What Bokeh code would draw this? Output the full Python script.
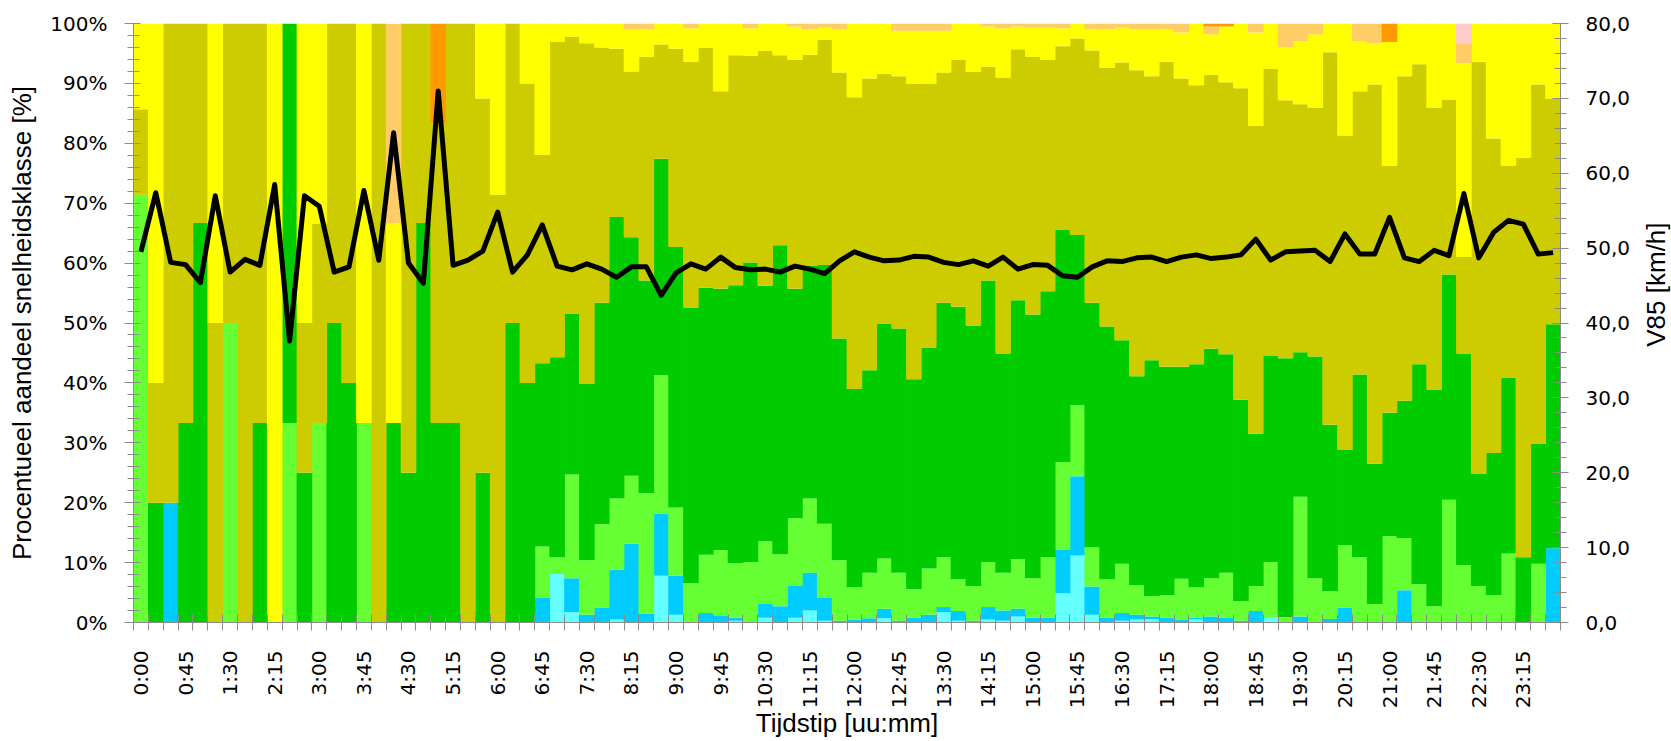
import math
from bokeh.plotting import figure
from bokeh.models import ColumnDataSource, Range1d, LinearAxis, FixedTicker
from bokeh.layouts import row
from bokeh.core.properties import value
from bokeh.embed import file_html
from bokeh.resources import INLINE

# ---------------- data ----------------
# 96 quarter-hour slots (0:00 .. 23:45); share of each speed class in % (rows of 16 slots)
tick_labels = ["0:00", "0:45", "1:30", "2:15", "3:00", "3:45", "4:30", "5:15",
               "6:00", "6:45", "7:30", "8:15", "9:00", "9:45", "10:30", "11:15",
               "12:00", "12:45", "13:30", "14:15", "15:00", "15:45", "16:30", "17:15",
               "18:00", "18:45", "19:30", "20:15", "21:00", "21:45", "22:30", "23:15"]
left_labels = ["0%", "10%", "20%", "30%", "40%", "50%", "60%", "70%", "80%", "90%", "100%"]
right_labels = ["0,0", "10,0", "20,0", "30,0", "40,0", "50,0", "60,0", "70,0", "80,0"]
x_title = "Tijdstip [uu:mm]"
y_title = "Procentueel aandeel snelheidsklasse [%]"
y2_title = "V85 [km/h]"

light_cyan = [0, 0, 0, 0, 0, 0, 0, 0, 0, 0, 0, 0, 0, 0, 0, 0,
              0, 0, 0, 0, 0, 0, 0, 0, 0, 0, 0, 0, 8.1, 1.7, 0, 0,
              0.5, 0, 0, 7.8, 1.3, 0, 0, 0, 0.3, 0, 0.8, 0, 0.8, 2.0, 0.3, 0,
              0, 0, 0.7, 0, 0, 0, 1.7, 0.3, 0, 0.5, 0.3, 1.0, 0, 0, 4.9, 11.2,
              1.3, 0, 0.3, 0.5, 0.6, 0, 0, 0.5, 0, 0, 0, 0, 0.8, 0, 0, 0,
              0, 0, 0, 0, 0, 0, 0, 0, 0, 0, 0, 0, 0, 0, 0, 0]
cyan = [0, 0, 20, 0, 0, 0, 0, 0, 0, 0, 0, 0, 0, 0, 0, 0,
        0, 0, 0, 0, 0, 0, 0, 0, 0, 0, 0, 4.1, 0, 5.7, 1.3, 2.5,
        8.3, 13.2, 1.5, 10.4, 6.5, 0, 1.6, 1.1, 0.5, 0, 2.3, 2.7, 5.3, 6.3, 3.8, 0.3,
        0.5, 0.7, 1.6, 0.3, 0.8, 1.3, 0.9, 1.6, 0.3, 2.1, 1.7, 1.3, 0.8, 0.8, 7.2, 13.2,
        4.7, 0.8, 1.3, 0.8, 0.4, 0.8, 0.5, 0.3, 1.0, 0.8, 0.3, 1.9, 0, 0, 1.0, 0,
        0.6, 2.5, 0, 0, 0, 5.4, 0, 0, 0, 0, 0, 0, 0, 0, 0, 12.4]
light_green = [71.4, 0, 0, 0, 0, 0, 50, 0, 0, 0, 33.3, 0, 33.3, 0, 0, 33.3,
               0, 0, 0, 0, 0, 0, 0, 0, 0, 0, 0, 8.6, 2.8, 17.3, 9.1, 13.9,
               11.9, 11.3, 20.1, 23.1, 11.4, 6.6, 9.7, 11.0, 9.1, 10.1, 10.5, 8.7, 11.3, 12.4, 12.4, 10.1,
               5.4, 7.6, 8.4, 8.0, 4.8, 7.7, 8.3, 5.3, 5.8, 7.5, 6.3, 8.3, 6.6, 10.1, 14.7, 11.9,
               6.6, 6.4, 8.2, 4.9, 3.4, 3.8, 6.8, 5.1, 6.4, 7.5, 3.3, 4.2, 9.3, 0.9, 20.0, 7.4,
               4.6, 10.4, 10.9, 3.1, 14.4, 8.7, 6.4, 2.7, 20.5, 9.6, 6.1, 4.6, 11.5, 0, 9.8, 0]
green = [0, 20, 0, 33.3, 66.7, 0, 0, 0, 33.3, 0, 66.7, 25, 0, 50, 40, 0,
         0, 33.3, 25, 66.7, 33.3, 33.3, 0, 25, 0, 50, 40, 30.6, 33.4, 26.9, 29.4, 37.0,
         47.0, 39.8, 35.5, 36.1, 43.5, 46.0, 44.6, 43.6, 46.4, 50.0, 42.6, 51.6, 38.3, 38.8, 43.2, 37.0,
         33.1, 33.8, 39.2, 40.8, 35.0, 36.9, 42.5, 45.5, 43.5, 47.0, 36.6, 43.2, 44.0, 44.4, 38.8, 28.4,
         40.8, 42.2, 37.3, 34.9, 39.4, 38.1, 35.4, 37.2, 38.3, 36.5, 33.6, 25.4, 34.4, 43.2, 24.1, 37.0,
         27.8, 15.9, 30.5, 23.4, 20.6, 22.9, 36.7, 36.1, 37.6, 35.3, 18.7, 23.7, 29.4, 10.9, 20.0, 37.4]
olive = [14.3, 20, 80, 66.7, 33.3, 50, 50, 100, 66.7, 0, 0, 25, 33.3, 50, 60, 0,
         100, 0, 75, 33.3, 50, 66.7, 100, 62.5, 71.4, 50, 50, 34.8, 52.7, 46.2, 56.9, 42.6,
         28.1, 27.7, 37.3, 19.1, 33.1, 41.0, 40.0, 33.0, 38.4, 34.5, 39.2, 31.7, 38.2, 35.3, 37.6, 44.4,
         48.7, 48.7, 41.7, 42.1, 49.3, 44.1, 38.4, 41.2, 42.3, 35.7, 46.1, 41.9, 43.0, 38.6, 30.6, 32.8,
         42.1, 43.2, 46.4, 51.1, 47.4, 50.9, 48.1, 46.6, 45.7, 45.4, 52.0, 51.4, 47.9, 43.1, 41.4, 41.5,
         62.2, 52.5, 47.3, 63.3, 41.2, 54.2, 50.1, 47.1, 29.2, 16.1, 68.8, 52.5, 35.4, 66.7, 60.0, 37.6]
yellow = [14.3, 60, 0, 0, 0, 50, 0, 0, 0, 100, 0, 50, 33.3, 0, 0, 66.7,
          0, 33.3, 0, 0, 0, 0, 0, 12.5, 28.6, 0, 10, 21.9, 3.0, 2.2, 3.3, 4.0,
          4.2, 7.0, 4.6, 3.5, 4.2, 5.6, 4.1, 11.3, 5.3, 4.6, 4.6, 5.3, 5.6, 4.2, 2.0, 7.2,
          12.3, 9.2, 8.4, 7.6, 8.9, 8.8, 7.0, 6.1, 8.1, 6.7, 8.2, 3.8, 4.9, 5.4, 3.0, 2.5,
          3.5, 6.4, 5.8, 6.8, 7.8, 5.4, 7.7, 10.3, 6.8, 9.3, 10.8, 15.6, 7.6, 8.8, 10.5, 12.3,
          4.8, 18.7, 8.3, 6.9, 20.7, 8.8, 6.8, 14.1, 12.7, 32.4, 6.4, 19.2, 23.7, 22.4, 10.2, 12.6]
light_orange = [0, 0, 0, 0, 0, 0, 0, 0, 0, 0, 0, 0, 0, 0, 0, 0,
                0, 33.3, 0, 0, 0, 0, 0, 0, 0, 0, 0, 0, 0, 0, 0, 0,
                0, 1.0, 1.0, 0, 0, 0.8, 0, 0, 0, 0.8, 0, 0, 0.5, 1.0, 0.7, 1.0,
                0, 0, 0, 1.2, 1.2, 1.2, 1.2, 0, 0, 0.5, 0.8, 0.5, 0.7, 0.7, 0.8, 0,
                1.0, 1.0, 0.7, 1.0, 1.0, 1.0, 1.5, 0, 1.3, 0, 0, 1.5, 0, 4.0, 3.0, 1.8,
                0, 0, 3.0, 3.3, 0, 0, 0, 0, 0, 3.3, 0, 0, 0, 0, 0, 0]
orange = [0, 0, 0, 0, 0, 0, 0, 0, 0, 0, 0, 0, 0, 0, 0, 0,
          0, 0, 0, 0, 16.7, 0, 0, 0, 0, 0, 0, 0, 0, 0, 0, 0,
          0, 0, 0, 0, 0, 0, 0, 0, 0, 0, 0, 0, 0, 0, 0, 0,
          0, 0, 0, 0, 0, 0, 0, 0, 0, 0, 0, 0, 0, 0, 0, 0,
          0, 0, 0, 0, 0, 0, 0, 0, 0.5, 0.5, 0, 0, 0, 0, 0, 0,
          0, 0, 0, 0, 3.1, 0, 0, 0, 0, 0, 0, 0, 0, 0, 0, 0]
pink = [0, 0, 0, 0, 0, 0, 0, 0, 0, 0, 0, 0, 0, 0, 0, 0,
        0, 0, 0, 0, 0, 0, 0, 0, 0, 0, 0, 0, 0, 0, 0, 0,
        0, 0, 0, 0, 0, 0, 0, 0, 0, 0, 0, 0, 0, 0, 0, 0,
        0, 0, 0, 0, 0, 0, 0, 0, 0, 0, 0, 0, 0, 0, 0, 0,
        0, 0, 0, 0, 0, 0, 0, 0, 0, 0, 0, 0, 0, 0, 0, 0,
        0, 0, 0, 0, 0, 0, 0, 0, 0, 3.3, 0, 0, 0, 0, 0, 0]

# V85 in km/h per quarter hour
v85 = [49.5, 57.4, 48.1, 47.8, 45.4, 57.0, 46.8, 48.5, 47.7, 58.5, 37.6, 57.0, 55.6, 46.8, 47.5, 57.7,
       48.4, 65.4, 48.0, 45.3, 71.0, 47.7, 48.4, 49.6, 54.8, 46.8, 49.1, 53.1, 47.6, 47.1, 47.9, 47.2,
       46.1, 47.5, 47.5, 43.7, 46.7, 47.9, 47.2, 48.8, 47.4, 47.1, 47.2, 46.8, 47.6, 47.2, 46.6, 48.3,
       49.5, 48.8, 48.3, 48.4, 48.9, 48.8, 48.1, 47.8, 48.3, 47.6, 48.8, 47.2, 47.8, 47.7, 46.3, 46.1,
       47.5, 48.3, 48.2, 48.7, 48.8, 48.2, 48.8, 49.1, 48.6, 48.8, 49.1, 51.2, 48.4, 49.5, 49.6, 49.7,
       48.2, 51.9, 49.2, 49.2, 54.1, 48.7, 48.2, 49.7, 49.0, 57.3, 48.7, 52.1, 53.7, 53.2, 49.2, 49.4]

classes = ["lc", "c", "lg", "g", "ol", "y", "lo", "o", "pk"]
colors = ["#66FFFF", "#00CCFF", "#66FF33", "#00CC00", "#CCCC00",
          "#FFFF00", "#FFCC66", "#FF9900", "#FFCCCC"]

n = len(v85)
for arr in (light_cyan, cyan, light_green, green, olive, yellow, light_orange, orange, pink):
    assert len(arr) == n, len(arr)

centers = [i + 0.5 for i in range(n)]
src = ColumnDataSource(dict(x=centers, lc=light_cyan, c=cyan, lg=light_green, g=green,
                            ol=olive, y=yellow, lo=light_orange, o=orange, pk=pink, v85=v85))

# ---------------- layout geometry ----------------
W, H = 1671, 741
TW = 36                                       # strip on the right holding the V85 title
PW = W - TW
FL, FR, FT, FB = 133, 1560, 23, 623          # plot frame edges in pixels
TITLE_X = 1655                                # centre of the V85 title in page pixels

p = figure(width=PW, height=H, x_range=Range1d(0, n), y_range=Range1d(0, 100),
           output_backend="svg", toolbar_location=None,
           min_border_left=FL, min_border_right=PW - FR,
           min_border_top=FT, min_border_bottom=H - FB)
p.extra_y_ranges = {"v85": Range1d(0, 80)}
p.outline_line_color = None
p.grid.visible = False
p.background_fill_color = "white"
p.border_fill_color = "white"

p.vbar_stack(classes, x="x", width=1.05, fill_color=colors, line_color=None, source=src)
p.line(x="x", y="v85", y_range_name="v85", line_color="black", line_width=5,
       line_join="round", source=src)

AX = "#8C8C8C"
TICKFONT = "DejaVu Sans"
TITLEFONT = "Liberation Sans"


def style_title(ax, text, standoff):
    ax.axis_label = text
    ax.axis_label_text_font = TITLEFONT
    ax.axis_label_text_font_size = "26px"
    ax.axis_label_text_font_style = "normal"
    ax.axis_label_text_color = "black"
    ax.axis_label_standoff = standoff


# x axis
xa = p.xaxis[0]
xa.ticker = FixedTicker(ticks=[0.5 + 3 * k for k in range(len(tick_labels))],
                        minor_ticks=list(range(n + 1)))
xa.major_label_overrides = {0.5 + 3 * k: lab for k, lab in enumerate(tick_labels)}
xa.major_label_orientation = math.pi / 2
xa.major_tick_in = 0
xa.major_tick_out = 0
xa.minor_tick_in = 8
xa.minor_tick_out = 8
xa.minor_tick_line_color = AX
xa.axis_line_color = AX
xa.major_label_standoff = 20
xa.major_label_text_font = TICKFONT
xa.major_label_text_font_size = "20px"
xa.major_label_text_color = "black"
style_title(xa, x_title, -3)

# left y axis
ya = p.yaxis[0]
ya.ticker = FixedTicker(ticks=list(range(0, 101, 10)), minor_ticks=list(range(0, 101, 2)))
ya.major_label_overrides = {10 * k: lab for k, lab in enumerate(left_labels)}
ya.major_tick_in = 7
ya.major_tick_out = 9
ya.minor_tick_in = 6
ya.minor_tick_out = 6
ya.major_tick_line_color = AX
ya.minor_tick_line_color = AX
ya.axis_line_color = AX
ya.major_label_standoff = 17
ya.major_label_text_font = TICKFONT
ya.major_label_text_font_size = "20px"
ya.major_label_text_color = "black"
style_title(ya, y_title, 10)

# right y axis (V85) - ticks and numbers only
ra = LinearAxis(y_range_name="v85")
ra.ticker = FixedTicker(ticks=list(range(0, 81, 10)), minor_ticks=list(range(0, 81, 2)))
ra.major_label_overrides = {10 * k: lab for k, lab in enumerate(right_labels)}
ra.major_tick_in = 8
ra.major_tick_out = 8
ra.minor_tick_in = 6
ra.minor_tick_out = 6
ra.major_tick_line_color = AX
ra.minor_tick_line_color = AX
ra.axis_line_color = AX
ra.major_label_standoff = 17
ra.major_label_text_font = TICKFONT
ra.major_label_text_font_size = "20px"
ra.major_label_text_color = "black"
p.add_layout(ra, "right")

# narrow strip with the right-hand axis title, reading bottom to top
t = figure(width=TW, height=H, x_range=Range1d(0, TW), y_range=Range1d(0, H),
           output_backend="svg", toolbar_location=None, min_border=0,
           x_axis_location=None, y_axis_location=None)
t.outline_line_color = None
t.grid.visible = False
t.background_fill_color = "white"
t.border_fill_color = "white"
t.text(x=[TITLE_X - PW], y=[H - (FT + FB) / 2], text=[y2_title], angle=math.pi / 2,
       text_font=value(TITLEFONT), text_font_size=value("26px"), text_color="black",
       text_align="center", text_baseline="middle")

layout = row(p, t)
open("out.html", "w").write(file_html(layout, INLINE))
